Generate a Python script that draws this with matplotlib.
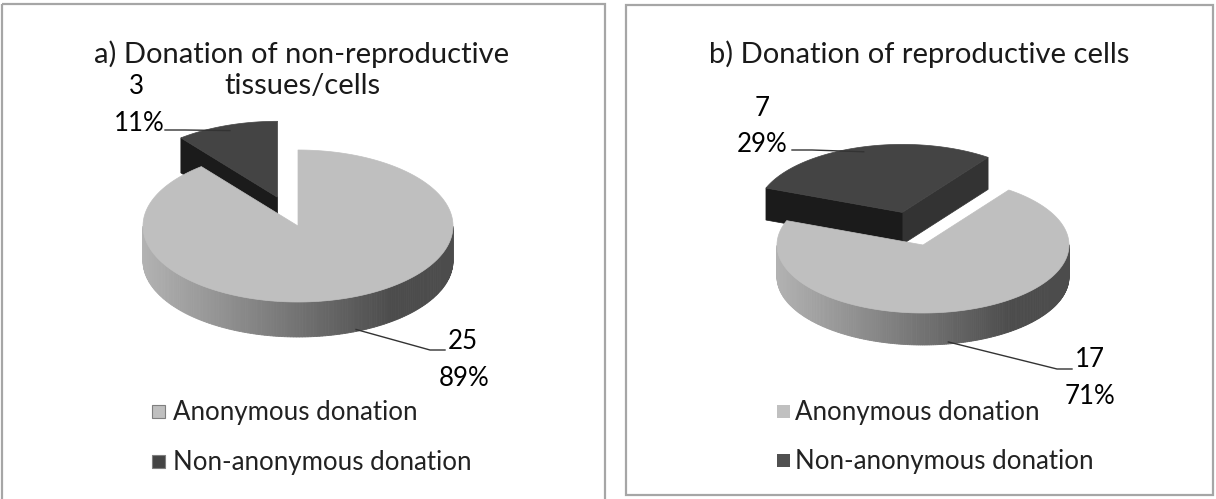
import numpy as np
import matplotlib.pyplot as plt
from matplotlib.patches import Polygon, Rectangle

plt.rcParams['font.family'] = ['Lato', 'DejaVu Sans']

# data
categories = ['Anonymous donation', 'Non-anonymous donation']
counts_a = [25, 3]
counts_b = [17, 7]
title_a = ['a) Donation of non-reproductive', 'tissues/cells']
title_b = ['b) Donation of reproductive cells']

W, H = 1216, 499
fig = plt.figure(figsize=(W / 100, H / 100), dpi=100)
ax = fig.add_axes([0, 0, 1, 1])
ax.set_xlim(0, W)
ax.set_ylim(H, 0)
ax.axis('off')

light = '#bfbfbf'
dark = '#444444'
fs = 18.6
tfs = 21


def ell(cx, cy, a, b, t):
    return cx + a * np.cos(t), cy - b * np.sin(t)


def wall_grey(x, x0, x1):
    f = np.clip((x - x0) / (x1 - x0) / 0.8, 0, 1)
    g = 0.70 - 0.40 * f
    return (g, g, g)


def draw_slice(cx, cy, a, b, depth, t1, t2, top_col, side_cols, xr):
    ts = np.linspace(t1, t2, 300)
    xs, ys = ell(cx, cy, a, b, ts)
    # outer wall, only the front half
    for i in range(len(ts) - 1):
        if np.sin(0.5 * (ts[i] + ts[i + 1])) < 0:
            p = [(xs[i], ys[i]), (xs[i + 1], ys[i + 1]),
                 (xs[i + 1], ys[i + 1] + depth), (xs[i], ys[i] + depth)]
            c = wall_grey(0.5 * (xs[i] + xs[i + 1]), xr[0], xr[1])
            ax.add_patch(Polygon(p, closed=True, fc=c, ec=c, lw=0.6))
    # radial faces that face the viewer
    for t, vis, col in [(t1, np.cos(t1) > 1e-6, side_cols[0]),
                        (t2, np.cos(t2) < -1e-6, side_cols[1])]:
        if vis:
            ex, ey = ell(cx, cy, a, b, t)
            p = [(cx, cy), (ex, ey), (ex, ey + depth), (cx, cy + depth)]
            ax.add_patch(Polygon(p, closed=True, fc=col, ec=col, lw=0.5))
    top = [(cx, cy)] + list(zip(xs, ys))
    ax.add_patch(Polygon(top, closed=True, fc=top_col, ec=top_col, lw=0.5))


def pie3d(counts, cx, cy, a, b, depth, start, explode):
    total = sum(counts)
    fr = np.array(counts) / total
    th0 = np.radians(start)
    # first slice goes clockwise from the start angle
    spans = [(th0 - 2 * np.pi * fr[0], th0), (th0, th0 + 2 * np.pi * fr[1])]
    tm = 0.5 * (spans[1][0] + spans[1][1])
    ox, oy = explode * a * np.cos(tm), -explode * b * np.sin(tm)
    xr = (cx - a, cx + a)
    # back (exploded) slice first, then the big one
    draw_slice(cx + ox, cy + oy, a, b, depth, spans[1][0], spans[1][1],
               dark, ['#333333', '#1b1b1b'], xr)
    draw_slice(cx, cy, a, b, depth, spans[0][0], spans[0][1],
               light, ['#9a9a9a', '#9a9a9a'], xr)
    rim = ell(cx + ox, cy + oy, a * 0.93, b * 0.93, tm)
    return fr, rim


def panel(x0, y0, x1, y1):
    ax.add_patch(Rectangle((x0, y0), x1 - x0, y1 - y0, fill=False,
                           ec='#a6a6a6', lw=1.6))


# ---- panel a ----
panel(2, 4, 605, 502)
ax.text(302, 63, title_a[0], ha='center', va='baseline', fontsize=tfs, color='#1a1a1a')
ax.text(302, 94, title_a[1], ha='center', va='baseline', fontsize=tfs, color='#1a1a1a')
cxa, cya, aa, ba, da = 298, 226, 155, 76, 35
fr_a, rim_a = pie3d(counts_a, cxa, cya, aa, ba, da, 90, 0.4)
# leader + labels
ax.plot([165, 185, rim_a[0]], [130, 130, rim_a[1]], color='#333333', lw=1)
ax.text(136, 94, f'{counts_a[1]}', ha='center', va='baseline', fontsize=fs)
ax.text(139, 131, f'{fr_a[1] * 100:.0f}%', ha='center', va='baseline', fontsize=fs)
bx, by = ell(cxa, cya, aa, ba, np.radians(-68))
ax.plot([bx, 430, 445], [by + da - 2, 350, 350], color='#333333', lw=1)
ax.text(463, 349, f'{counts_a[0]}', ha='center', va='baseline', fontsize=fs)
ax.text(464, 386, f'{fr_a[0] * 100:.0f}%', ha='center', va='baseline', fontsize=fs)
ax.add_patch(Rectangle((152, 405), 13, 13, fc=light, ec='#7f7f7f', lw=0.8))
ax.add_patch(Rectangle((152, 455), 13, 13, fc=dark, ec='#7f7f7f', lw=0.8))
ax.text(173, 420, categories[0], ha='left', va='baseline', fontsize=fs, color='#222222')
ax.text(173, 470, categories[1], ha='left', va='baseline', fontsize=fs, color='#222222')

# ---- panel b ----
panel(626, 5, 1213, 495)
ax.text(919, 63, title_b[0], ha='center', va='baseline', fontsize=tfs, color='#1a1a1a')
cxb, cyb, ab, bb, db = 923, 245, 146, 68, 32
fr_b, rim_b = pie3d(counts_b, cxb, cyb, ab, bb, db, 54, 0.5)
ax.plot([792, 812, rim_b[0]], [150, 150, rim_b[1]], color='#333333', lw=1)
ax.text(762, 116, f'{counts_b[1]}', ha='center', va='baseline', fontsize=fs)
ax.text(762, 152, f'{fr_b[1] * 100:.0f}%', ha='center', va='baseline', fontsize=fs)
bx, by = ell(cxb, cyb, ab, bb, np.radians(-80))
ax.plot([bx, 1057, 1072], [by + db - 2, 369, 369], color='#333333', lw=1)
ax.text(1090, 367, f'{counts_b[0]}', ha='center', va='baseline', fontsize=fs)
ax.text(1090, 404, f'{fr_b[0] * 100:.0f}%', ha='center', va='baseline', fontsize=fs)
ax.add_patch(Rectangle((777, 405), 13, 13, fc='#c0c0c0', ec='none'))
ax.add_patch(Rectangle((777, 454), 13, 13, fc='#505050', ec='none'))
ax.text(795, 420, categories[0], ha='left', va='baseline', fontsize=fs, color='#222222')
ax.text(795, 469, categories[1], ha='left', va='baseline', fontsize=fs, color='#222222')

fig.savefig('out.png', dpi=100, facecolor='white')
